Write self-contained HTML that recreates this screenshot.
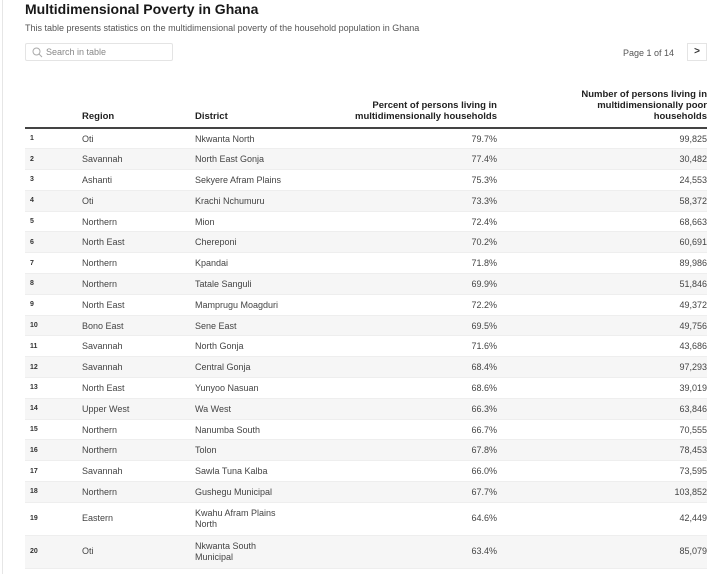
<!DOCTYPE html>
<html><head><meta charset="utf-8"><style>
*{margin:0;padding:0;box-sizing:border-box}
body{width:720px;height:574px;background:#fff;font-family:"Liberation Sans",sans-serif;color:#333;position:relative;overflow:hidden}
.lb{position:absolute;left:2px;top:0;width:1px;height:574px;background:#e6e6e6}
h1{position:absolute;left:25px;top:1px;font-size:14px;font-weight:bold;color:#181818;line-height:16px}
.sub{position:absolute;left:25px;top:23px;font-size:9px;color:#555}
.search{position:absolute;left:25px;top:43px;width:148px;height:18px;border:1px solid #e4e4e4;border-radius:2px;font-size:9px;color:#888;padding:3px 0 0 20px}
.search svg{position:absolute;left:6px;top:3px}
.page{position:absolute;left:623px;top:48px;font-size:9px;color:#555}
.btn{position:absolute;left:687px;top:43px;width:20px;height:18px;border:1px solid #e4e4e4;font-size:10px;font-weight:bold;text-align:center;line-height:16px;color:#333}
table{position:absolute;left:25px;top:80px;width:682px;border-collapse:collapse;font-size:9px}
th{font-weight:bold;color:#222;vertical-align:bottom;text-align:left;padding:0 0 5px 0;height:48px;border-bottom:2px solid #444;line-height:11px;font-size:9.5px}
td{height:20.8px;padding:0;color:#444;border-bottom:1px solid #eee;vertical-align:middle}
tr:nth-child(odd) td{background:#f6f6f6}
td.n{font-size:7px;font-weight:bold;padding-left:5px;color:#333}
td.r,th.r{text-align:right}
td.t{height:33px;line-height:11px}
</style></head><body>
<div class="lb"></div>
<h1>Multidimensional Poverty in Ghana</h1>
<div class="sub">This table presents statistics on the multidimensional poverty of the household population in Ghana</div>
<div class="search"><svg width="11" height="11" viewBox="0 0 11 11"><circle cx="4.5" cy="4.5" r="3.5" fill="none" stroke="#aaa" stroke-width="1"/><line x1="7" y1="7" x2="10" y2="10" stroke="#aaa"/></svg>Search in table</div>
<div class="page">Page 1 of 14</div>
<div class="btn">&gt;</div>
<table>
<colgroup><col style="width:57px"><col style="width:113px"><col style="width:105px"><col style="width:197px"><col style="width:210px"></colgroup>
<tr><th></th><th>Region</th><th>District</th><th class="r">Percent of persons living in<br>multidimensionally households</th><th class="r">Number of persons living in<br>multidimensionally poor<br>households</th></tr>
<tr><td class="n">1</td><td>Oti</td><td>Nkwanta North</td><td class="r">79.7%</td><td class="r">99,825</td></tr>
<tr><td class="n">2</td><td>Savannah</td><td>North East Gonja</td><td class="r">77.4%</td><td class="r">30,482</td></tr>
<tr><td class="n">3</td><td>Ashanti</td><td>Sekyere Afram Plains</td><td class="r">75.3%</td><td class="r">24,553</td></tr>
<tr><td class="n">4</td><td>Oti</td><td>Krachi Nchumuru</td><td class="r">73.3%</td><td class="r">58,372</td></tr>
<tr><td class="n">5</td><td>Northern</td><td>Mion</td><td class="r">72.4%</td><td class="r">68,663</td></tr>
<tr><td class="n">6</td><td>North East</td><td>Chereponi</td><td class="r">70.2%</td><td class="r">60,691</td></tr>
<tr><td class="n">7</td><td>Northern</td><td>Kpandai</td><td class="r">71.8%</td><td class="r">89,986</td></tr>
<tr><td class="n">8</td><td>Northern</td><td>Tatale Sanguli</td><td class="r">69.9%</td><td class="r">51,846</td></tr>
<tr><td class="n">9</td><td>North East</td><td>Mamprugu Moagduri</td><td class="r">72.2%</td><td class="r">49,372</td></tr>
<tr><td class="n">10</td><td>Bono East</td><td>Sene East</td><td class="r">69.5%</td><td class="r">49,756</td></tr>
<tr><td class="n">11</td><td>Savannah</td><td>North Gonja</td><td class="r">71.6%</td><td class="r">43,686</td></tr>
<tr><td class="n">12</td><td>Savannah</td><td>Central Gonja</td><td class="r">68.4%</td><td class="r">97,293</td></tr>
<tr><td class="n">13</td><td>North East</td><td>Yunyoo Nasuan</td><td class="r">68.6%</td><td class="r">39,019</td></tr>
<tr><td class="n">14</td><td>Upper West</td><td>Wa West</td><td class="r">66.3%</td><td class="r">63,846</td></tr>
<tr><td class="n">15</td><td>Northern</td><td>Nanumba South</td><td class="r">66.7%</td><td class="r">70,555</td></tr>
<tr><td class="n">16</td><td>Northern</td><td>Tolon</td><td class="r">67.8%</td><td class="r">78,453</td></tr>
<tr><td class="n">17</td><td>Savannah</td><td>Sawla Tuna Kalba</td><td class="r">66.0%</td><td class="r">73,595</td></tr>
<tr><td class="n">18</td><td>Northern</td><td>Gushegu Municipal</td><td class="r">67.7%</td><td class="r">103,852</td></tr>
<tr><td class="n t">19</td><td class="t">Eastern</td><td class="t">Kwahu Afram Plains<br>North</td><td class="r t">64.6%</td><td class="r t">42,449</td></tr>
<tr><td class="n t">20</td><td class="t">Oti</td><td class="t">Nkwanta South<br>Municipal</td><td class="r t">63.4%</td><td class="r t">85,079</td></tr>
</table>
</body></html>
